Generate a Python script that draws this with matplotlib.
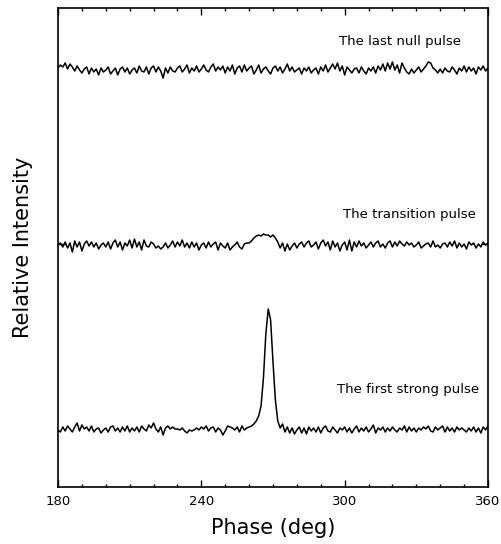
import numpy as np
import matplotlib
matplotlib.use('Agg')
import matplotlib.pyplot as plt
from matplotlib.ticker import MultipleLocator

# phase bins, 1 deg steps
phase = np.arange(180, 361, 1)

# profiles (arbitrary units above each baseline)
null_pulse = [
    2, 5, 3, 7, 1, 6, 3, -1, 4, 0,
    -3, 1, 3, -4, 2, -2, 1, -5, 2, -2,
    0, 3, -4, -1, 2, -5, 1, 3, -2, 2,
    -4, 0, 2, -3, 4, -1, -2, 3, -4, 2,
    4, -2, 3, -1, -8, 2, -3, 3, -1, -2,
    2, 4, -2, 1, 5, -3, 2, -1, 4, -2,
    1, 5, 0, -2, 3, 6, -1, 3, 0, 4,
    -3, 3, -1, 5, -4, 2, 4, -2, 5, -1,
    2, 4, -4, 0, 5, -3, 1, 3, -1, -4,
    2, 4, -1, 3, -3, 1, 6, -1, 3, -2,
    0, 2, -4, 2, -1, 3, -3, 0, 2, -4,
    3, -1, 5, -2, 2, 6, 1, 7, -1, 4,
    -5, 3, 0, -3, 1, 2, -3, 3, -1, -4,
    2, -1, 3, -3, 4, 0, 6, -1, 7, 1,
    8, 0, 5, -3, 7, 2, -2, -4, 1, -3,
    0, 3, -2, 1, 4, 8, 7, 2, 0, -3,
    1, -3, 2, -1, -2, 3, 0, -4, 2, -1,
    4, -2, 3, -1, 2, -4, 3, 0, 4, -1,
    2,
]

transition_pulse = [
    0, 2, -2, 3, -3, 2, -7, 4, -2, 3,
    -6, 1, 4, -1, 3, -2, 2, -4, 0, 2,
    -2, 3, -4, 2, 5, -2, 3, -5, 2, -1,
    5, -3, 6, -2, 3, -5, 5, -1, -2, 3,
    1, -3, -1, -4, -2, 2, -3, 0, 4, -2,
    3, -1, 5, -2, 2, -3, 3, -2, 2, -5,
    0, 2, -3, 3, -2, 1, 3, -5, 2, -1,
    -3, 2, -5, -2, 0, 3, -2, -4, 1, 2,
    2, 4, 7, 9, 10, 9, 11, 10, 10, 8,
    10, 7, 3, -3, 2, -6, 1, -5, -1, 2,
    -3, 1, 3, -2, 2, 4, -2, 0, 3, -4,
    2, 5, -1, 3, -5, 4, -2, 2, -6, 0,
    3, -5, 5, -6, 3, -2, 4, -1, 2, -3,
    0, 3, -2, 2, 4, -2, 1, -3, 2, 4,
    -2, 3, -1, 4, 1, -1, 3, 0, 2, -2,
    0, 3, -3, -1, 1, 2, -2, 4, -2, 0,
    -3, 1, 2, -2, 3, -1, 4, -3, 2, -2,
    1, -4, 3, 0, 2, -3, 1, -2, 3, 0,
    2,
]

strong_pulse = [
    0, -2, 3, -1, 4, 1, -2, 3, 7, -1,
    5, 1, 3, -1, 4, -2, 1, 2, -3, 0,
    2, -2, 3, 4, -1, 2, -2, 3, -1, 4,
    -2, 2, -1, 3, -2, 4, 1, -1, 5, 2,
    7, 1, -2, 3, -5, 2, 4, 1, 3, 1,
    1, 0, 2, -1, -3, 0, -1, 0, 2, 0,
    3, 1, 4, -1, 2, 3, -2, 2, 0, -5,
    -1, 4, 3, 2, 0, 3, -2, 4, 0, 2,
    3, 4, 6, 9, 14, 24, 52, 96, 121, 110,
    68, 30, 9, 2, 6, -2, 3, -3, 2, -4,
    0, 3, -3, 2, -4, 3, -1, 2, -2, 3,
    -3, 2, 4, -1, -2, 3, 0, -3, 2, 0,
    3, -2, 2, -3, 1, 4, -2, 2, -1, 3,
    -2, 1, 5, -3, 2, 0, 3, -2, 2, -1,
    3, 0, -2, 2, 0, 4, -2, 3, -1, 2,
    -2, 2, 0, 3, 1, 4, -1, -2, 3, 0,
    2, 4, -2, 3, -1, 2, -2, 3, 0, 2,
    0, -2, 2, -1, 3, -2, 2, -3, 3, 0,
    4,
]

labels = ['The last null pulse', 'The transition pulse', 'The first strong pulse']
offsets = [417, 242, 57]

fig = plt.figure(figsize=(5.01, 5.44), dpi=100)
ax = fig.add_axes([0.1158, 0.1048, 0.8582, 0.8805])

for prof, off in zip([null_pulse, transition_pulse, strong_pulse], offsets):
    ax.plot(phase, np.array(prof) + off, color='black', lw=1.1)

ax.text(323, 445, labels[0], ha='center', va='center', fontsize=9.5)
ax.text(327, 272, labels[1], ha='center', va='center', fontsize=9.5)
ax.text(326.5, 97, labels[2], ha='center', va='center', fontsize=9.5)

ax.set_xlim(180, 360)
ax.set_ylim(0, 479)
ax.set_xticks([180, 240, 300, 360])
ax.xaxis.set_minor_locator(MultipleLocator(10))
ax.set_yticks([243])
ax.set_yticklabels([])
ax.tick_params(which='both', direction='in', top=True, right=True, width=1)
ax.tick_params(which='major', length=5, labelsize=9.5, pad=6)
ax.tick_params(which='minor', length=2.5)
for s in ax.spines.values():
    s.set_linewidth(1.2)

ax.set_xlabel('Phase (deg)', fontsize=15, labelpad=7)
ax.set_ylabel('Relative Intensity', fontsize=15, labelpad=12)

fig.savefig('out.png', dpi=100)
